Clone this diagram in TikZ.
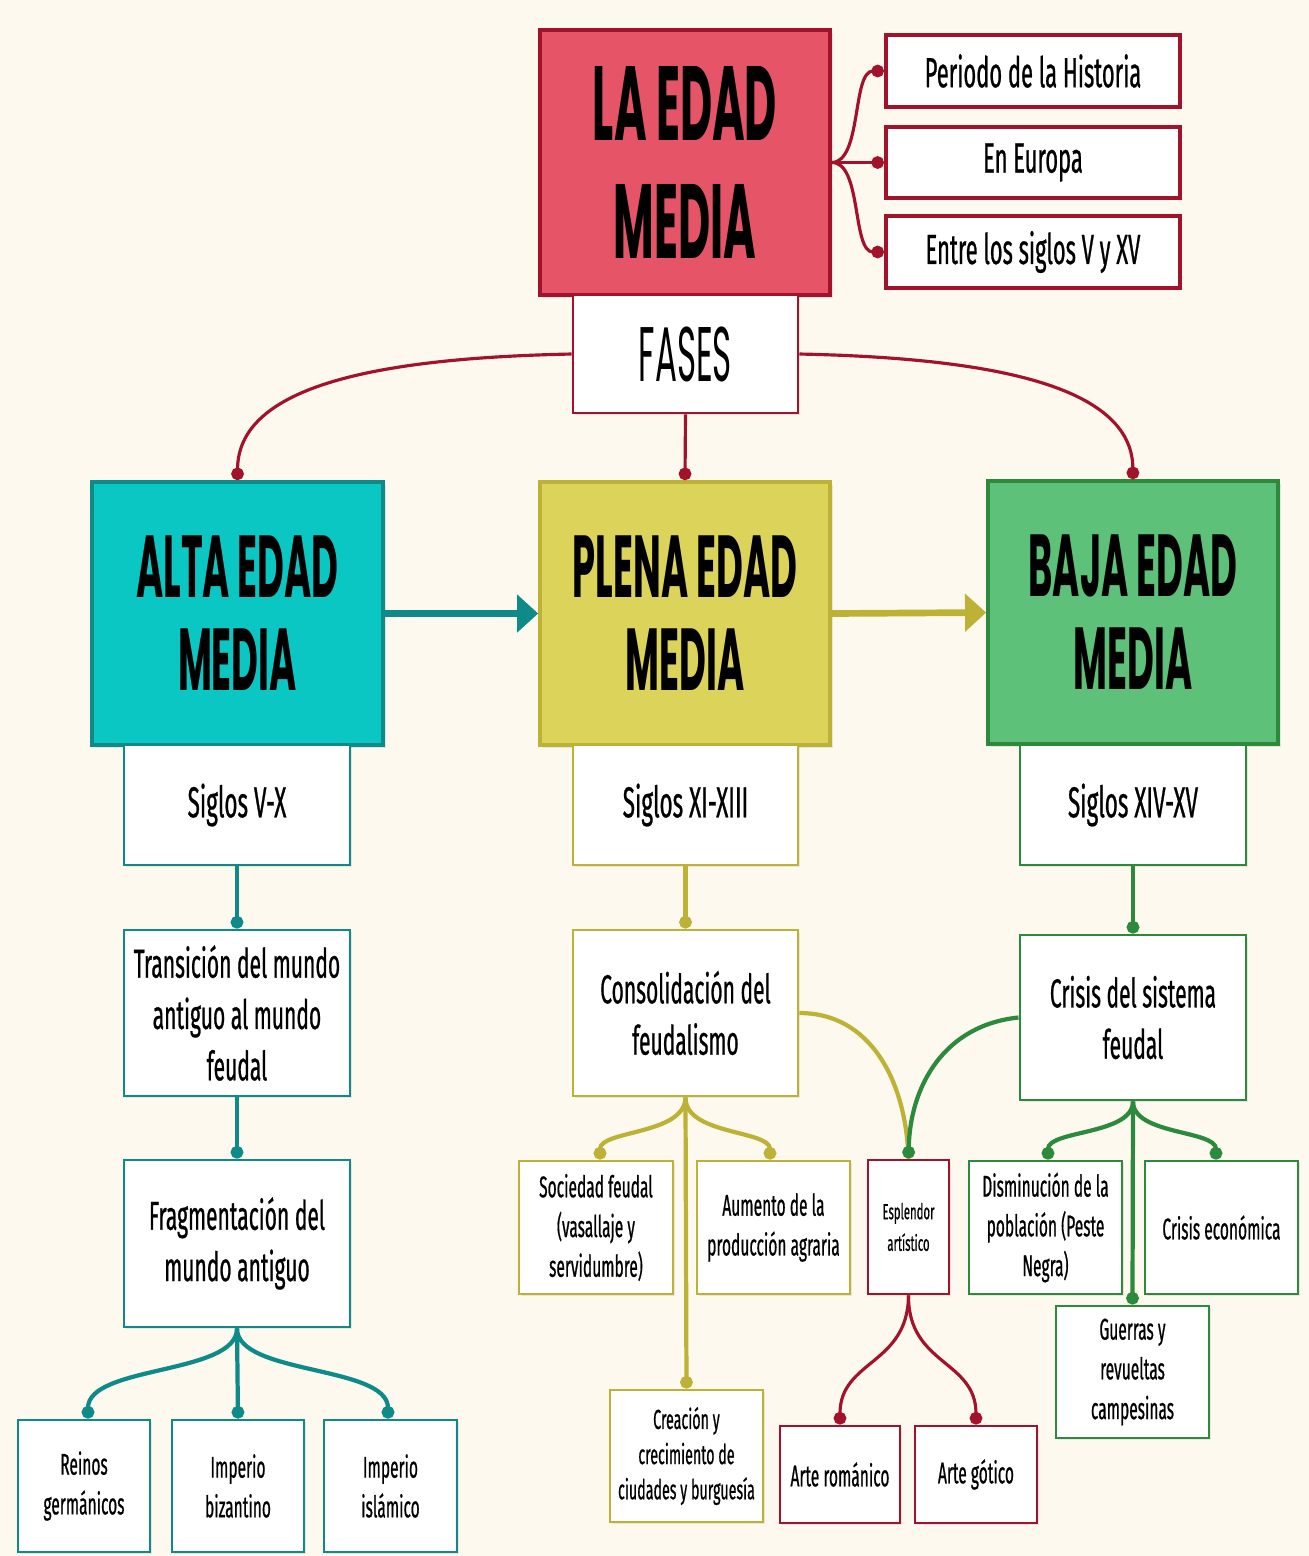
\documentclass[tikz,border=0pt]{standalone}
\usepackage{fontspec}
\setmainfont{Fira Sans}
\newfontfamily\bodyf[FakeStretch=0.52,FakeBold=0.6]{Fira Sans}
\newfontfamily\titlef[FakeStretch=0.42]{Poppins}
\usetikzlibrary{arrows.meta,shadows}
\definecolor{bg}{HTML}{FDF9EF}
\definecolor{redF}{HTML}{E65467}
\definecolor{redD}{HTML}{A3122B}
\definecolor{tealF}{HTML}{0BC7C3}
\definecolor{tealD}{HTML}{0E8A88}
\definecolor{yelF}{HTML}{DCD35B}
\definecolor{yelD}{HTML}{BEB236}
\definecolor{grnF}{HTML}{5EC17A}
\definecolor{grnD}{HTML}{2C8A3C}
\begin{document}
\begin{tikzpicture}[x=0.01cm,y=-0.01cm,
  bigbox/.style={draw, line width=1pt, inner sep=0pt, align=center, text=black,
    font=\titlef\bfseries\fontsize{25}{26.5}\selectfont,
    drop shadow={opacity=0.18,shadow xshift=0.8pt,shadow yshift=-0.8pt}},
  box/.style={draw, line width=0.8pt, fill=white, align=center, inner sep=2pt, text=black,
    drop shadow={opacity=0.15,shadow xshift=0.6pt,shadow yshift=-0.6pt}},
  mid/.style={font=\bodyf\fontsize{11.5}{14.6}\selectfont},
  sml/.style={font=\bodyf\fontsize{8.5}{11.3}\selectfont},
  rbox/.style={box, draw=redD},
  tbox/.style={box, draw=tealD},
  ybox/.style={box, draw=yelD},
  gbox/.style={box, draw=grnD},
  dot/.style={-{Circle[length=3.6pt]}},
  rl/.style={draw=redD, line width=0.9pt},
  tl/.style={draw=tealD, line width=1.2pt},
  yl/.style={draw=yelD, line width=1.2pt},
  gl/.style={draw=grnD, line width=1.2pt}
]
\fill[bg] (0,0) rectangle (1309,1556);
\useasboundingbox (0,0) rectangle (1309,1556);

% ---------- top ----------
\node[bigbox, fill=redF, draw=redD, minimum width=2.90cm, minimum height=2.65cm,
  font=\titlef\bfseries\fontsize{30}{33.5}\selectfont] (title) at (685,162.5) {LA EDAD\\MEDIA};
\node[rbox, line width=1.1pt, font=\bodyf\fontsize{12}{14}\selectfont, minimum width=2.94cm, minimum height=0.72cm] (p1) at (1033,71) {Periodo de la Historia};
\node[rbox, line width=1.1pt, font=\bodyf\fontsize{12}{14}\selectfont, minimum width=2.94cm, minimum height=0.71cm] (p2) at (1033,162.5) {En Europa};
\node[rbox, line width=1.1pt, font=\bodyf\fontsize{12}{14}\selectfont, minimum width=2.94cm, minimum height=0.72cm] (p3) at (1033,252) {Entre los siglos V y XV};
\node[rbox, minimum width=2.25cm, minimum height=1.18cm, font=\titlef\fontsize{22}{24}\selectfont] (fases) at (685.5,354) {FASES};

\draw[rl, dot] (title.east) .. controls (862,162) and (852,71) .. (p1.west);
\draw[rl, dot] (title.east) -- (p2.west);
\draw[rl, dot] (title.east) .. controls (862,162) and (852,252) .. (p3.west);

% ---------- phases ----------
\node[bigbox, fill=tealF, draw=tealD, minimum width=2.91cm, minimum height=2.63cm] (alta) at (237.5,613.5) {ALTA EDAD\\MEDIA};
\node[bigbox, fill=yelF, draw=yelD, minimum width=2.90cm, minimum height=2.63cm] (plena) at (685,613.5) {PLENA EDAD\\MEDIA};
\node[bigbox, fill=grnF, draw=grnD, minimum width=2.90cm, minimum height=2.63cm] (baja) at (1133,612.5) {BAJA EDAD\\MEDIA};

\draw[rl, dot] (fases.west) .. controls (380,358) and (238,385) .. (alta.north);
\draw[rl, dot] (fases.south) -- (plena.north);
\draw[rl, dot] (fases.east) .. controls (990,358) and (1132,385) .. (baja.north);

\draw[draw=tealD, line width=1.9pt, -{Triangle[length=6pt,width=10.5pt]}] (alta.east) -- (plena.west);
\draw[draw=yelD, line width=1.9pt, -{Triangle[length=6pt,width=10.5pt]}] (plena.east) -- (baja.west);

% ---------- siglos ----------
\node[tbox, font=\bodyf\fontsize{12.3}{14}\selectfont, minimum width=2.26cm, minimum height=1.20cm] (s1) at (237,805) {Siglos V-X};
\node[ybox, font=\bodyf\fontsize{12.3}{14}\selectfont, minimum width=2.25cm, minimum height=1.20cm] (s2) at (685.5,805) {Siglos XI-XIII};
\node[gbox, font=\bodyf\fontsize{12.3}{14}\selectfont, minimum width=2.26cm, minimum height=1.20cm] (s3) at (1133,805) {Siglos XIV-XV};

% ---------- alta branch ----------
\node[tbox, mid, minimum width=2.26cm, minimum height=1.66cm] (t1) at (237,1013) {Transición del mundo\\antiguo al mundo\\feudal};
\node[tbox, mid, minimum width=2.26cm, minimum height=1.67cm] (t2) at (237,1243.5) {Fragmentación del\\mundo antiguo};
\node[tbox, sml, minimum width=1.32cm, minimum height=1.32cm] (r1) at (84,1486) {Reinos\\germánicos};
\node[tbox, sml, minimum width=1.32cm, minimum height=1.32cm] (r2) at (238,1486) {Imperio\\bizantino};
\node[tbox, sml, minimum width=1.33cm, minimum height=1.32cm] (r3) at (390.5,1486) {Imperio\\islámico};

\draw[tl, dot] (s1.south) -- (t1.north);
\draw[tl, dot] (t1.south) -- (t2.north);
\draw[tl, dot] (t2.south) .. controls (237,1375) and (88,1365) .. (r1.north -| 88,0);
\draw[tl, dot] (t2.south) -- (r2.north);
\draw[tl, dot] (t2.south) .. controls (237,1375) and (388,1365) .. (r3.north -| 388,0);

% ---------- plena branch ----------
\node[ybox, mid, minimum width=2.25cm, minimum height=1.66cm] (c1) at (685.5,1013) {Consolidación del\\feudalismo};
\node[ybox, sml, minimum width=1.54cm, minimum height=1.33cm] (y1) at (596,1227.5) {Sociedad feudal\\(vasallaje y\\servidumbre)};
\node[ybox, sml, minimum width=1.53cm, minimum height=1.33cm] (y2) at (773.5,1227.5) {Aumento de la\\producción agraria};
\node[ybox, font=\bodyf\fontsize{7.8}{10}\selectfont, minimum width=1.53cm, minimum height=1.32cm] (y3) at (686.5,1456) {Creación y\\crecimiento de\\ciudades y burguesía};
\node[rbox, font=\bodyf\fontsize{6.2}{9}\selectfont, minimum width=0.81cm, minimum height=1.34cm] (e1) at (908.5,1227) {Esplendor\\artístico};
\node[rbox, sml, minimum width=1.20cm, minimum height=0.97cm] (a1) at (840,1474.5) {Arte románico};
\node[rbox, sml, minimum width=1.22cm, minimum height=0.97cm] (a2) at (976,1474.5) {Arte gótico};

\draw[yl, dot] (s2.south) -- (c1.north);
\draw[yl, dot] (c1.south) .. controls (685,1135) and (600,1130) .. (y1.north -| 600,0);
\draw[yl, dot] (c1.south) .. controls (685,1135) and (770,1130) .. (y2.north -| 770,0);
\draw[yl, dot] (c1.south) -- (y3.north);
\draw[yl] (c1.east) .. controls (870,1013) and (906,1080) .. (e1.north);

\draw[rl, dot] (e1.south) .. controls (908,1365) and (840,1360) .. (a1.north);
\draw[rl, dot] (e1.south) .. controls (908,1365) and (976,1360) .. (a2.north);

% ---------- baja branch ----------
\node[gbox, mid, minimum width=2.26cm, minimum height=1.65cm] (g0) at (1133,1017.5) {Crisis del sistema\\feudal};
\node[gbox, sml, minimum width=1.53cm, minimum height=1.33cm] (g1) at (1045.5,1227.5) {Disminución de la\\población (Peste\\Negra)};
\node[gbox, sml, minimum width=1.53cm, minimum height=1.33cm] (g2) at (1221.5,1227.5) {Crisis económica};
\node[gbox, sml, minimum width=1.53cm, minimum height=1.32cm] (g3) at (1132.5,1372) {Guerras y\\revueltas\\campesinas};

\draw[gl, dot] (s3.south) -- (g0.north);
\draw[gl, dot] (g0.west) .. controls (945,1025) and (910,1085) .. (e1.north);
\draw[gl, dot] (g0.south) .. controls (1133,1135) and (1048,1130) .. (g1.north -| 1048,0);
\draw[gl, dot] (g0.south) .. controls (1133,1135) and (1216,1130) .. (g2.north -| 1216,0);
\draw[gl, dot] (g0.south) -- (g3.north);
\end{tikzpicture}
\end{document}
